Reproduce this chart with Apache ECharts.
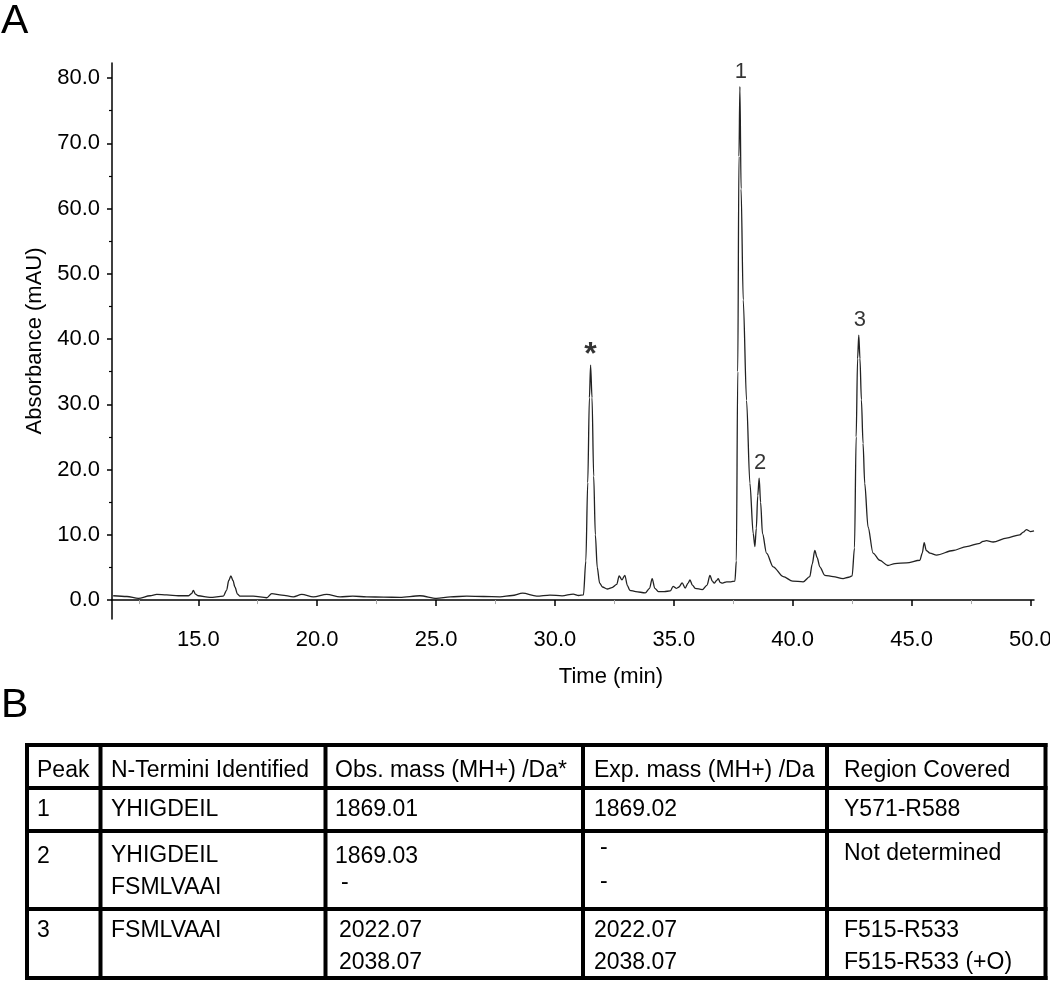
<!DOCTYPE html>
<html>
<head>
<meta charset="utf-8">
<script src="https://cdn.jsdelivr.net/npm/echarts@6/dist/echarts.min.js"></script>
<style>
  html, body { margin: 0; padding: 0; background: #fff; }
  #chart { width: 1050px; height: 982px; }
</style>
</head>
<body>
<div id="chart"></div>
<script>
// chromatogram trace (time in min, absorbance in mAU)
const time = [
  11.42, 12.0, 12.48, 12.97, 13.25, 13.67, 14.16, 14.58, 14.72, 14.79, 14.88, 15.0,
  15.49, 16.05, 16.19, 16.28, 16.37, 16.46, 16.54, 16.65, 16.75, 17.31, 17.88, 18.09,
  18.51, 19.0, 19.35, 19.84, 20.4, 20.96, 21.5, 22.08, 22.8, 23.48, 24.32, 25.02,
  25.6, 26.29, 27.0, 27.69, 28.2, 28.64, 29.23, 29.79, 30.3, 30.77, 31.0, 31.2,
  31.3, 31.38, 31.45, 31.5, 31.56, 31.63, 31.7, 31.78, 31.88, 32.0, 32.2, 32.4,
  32.6, 32.7, 32.82, 32.94, 33.05, 33.15, 33.4, 33.8, 33.98, 34.09, 34.2, 34.35,
  34.6, 34.85, 34.97, 35.1, 35.22, 35.35, 35.48, 35.6, 35.68, 35.78, 35.9, 36.2,
  36.4, 36.52, 36.62, 36.7, 36.8, 36.87, 36.95, 37.05, 37.22, 37.4, 37.57, 37.63,
  37.69, 37.74, 37.78, 37.83, 37.92, 38.06, 38.2, 38.34, 38.41, 38.47, 38.53, 38.59,
  38.65, 38.73, 38.9, 39.18, 39.6, 40.0, 40.44, 40.72, 40.82, 40.93, 41.03, 41.14,
  41.35, 41.7, 42.12, 42.35, 42.5, 42.6, 42.67, 42.73, 42.78, 42.83, 42.89, 42.96,
  43.03, 43.17, 43.38, 43.66, 44.0, 44.3, 44.79, 45.35, 45.45, 45.53, 45.62, 45.77,
  46.05, 46.75, 47.31, 47.87, 48.0, 48.15, 48.43, 48.99, 49.55, 49.7, 49.83, 50.0,
  50.15
];
const absorbance = [
  0.66, 0.55, 0.26, 0.66, 0.87, 0.80, 0.66, 0.66, 1.0, 1.5, 0.9, 0.66,
  0.41, 0.6, 1.5, 3.0, 3.7, 3.0, 2.0, 0.9, 0.6, 0.6, 0.36, 1.0,
  0.77, 0.5, 0.87, 0.5, 0.87, 0.5, 0.6, 0.5, 0.45, 0.41, 0.66, 0.26,
  0.5, 0.6, 0.55, 0.5, 0.7, 1.05, 0.6, 0.77, 0.65, 0.92, 0.7, 0.8,
  6, 18, 31, 36.0, 31, 19, 10, 5, 2.6, 2.0, 1.7, 1.9,
  2.4, 3.7, 3.1, 3.8, 2.2, 1.5, 1.3, 1.1, 1.8, 3.3, 1.8, 1.3,
  1.3, 1.4, 2.1, 1.8, 2.0, 2.65, 1.85, 2.6, 3.1, 2.3, 1.8, 1.6,
  2.3, 3.8, 2.9, 2.6, 3.0, 3.3, 2.7, 2.6, 2.8, 2.8, 2.9, 6,
  35, 68, 78.7, 63, 46, 30.6, 17.9, 10.2, 8.2, 11, 16, 18.7,
  15, 10.2, 7.2, 5.1, 3.6, 2.9, 2.8, 3.6, 5.5, 7.6, 6.5, 5.1,
  3.8, 3.6, 3.3, 3.5, 3.7, 8, 25, 37, 40.6, 37, 30.7, 24,
  17.9, 11.2, 7.2, 6.1, 5.3, 5.6, 5.7, 6.1, 7.2, 8.8, 7.6, 7.2,
  6.9, 7.6, 8.2, 8.7, 9.0, 9.1, 8.9, 9.5, 10.0, 10.4, 10.8, 10.5,
  10.6
];

// labelled peaks
const peakNames = ['*', '1', '2', '3'];
const peakTimes = [31.5, 37.78, 38.59, 42.78];
const peakHeights = [36.0, 78.7, 18.7, 40.6];

// axis ticks
const xTicks = [15, 20, 25, 30, 35, 40, 45, 50];
const xMinorTicks = [12.5, 17.5, 22.5, 27.5, 32.5, 37.5, 42.5, 47.5];
const yTicks = [0, 10, 20, 30, 40, 50, 60, 70, 80];
const yMinorTicks = [5, 15, 25, 35, 45, 55, 65, 75];

// table B
const tableHeader = ['Peak', 'N-Termini Identified', 'Obs. mass (MH+) /Da*', 'Exp. mass (MH+) /Da', 'Region Covered'];
const peakIds = [['1'], ['2'], ['3']];
const nTermini = [['YHIGDEIL'], ['YHIGDEIL', 'FSMLVAAI'], ['FSMLVAAI']];
const obsMass = [['1869.01'], ['1869.03', '-'], ['2022.07', '2038.07']];
const expMass = [['1869.02'], ['-', '-'], ['2022.07', '2038.07']];
const regionCovered = [['Y571-R588'], ['Not determined'], ['F515-R533', 'F515-R533 (+O)']];

const FONT = '"Liberation Sans", Arial, Helvetica, sans-serif';

// --- table layout (pixels) ---
const colX = [27, 100.5, 325.5, 583, 827, 1045.5];
const rowY = [745, 788, 831, 909, 978];
const textX = [37, 111, 335, 594, 844];
// line centres per row and column
const lineY = [
  [[810], [810], [810], [810], [810]],
  [[857], [856, 888], [857, 883], [848, 882], [854]],
  [[931], [931], [931, 963], [931, 963], [931, 963]]
];

function tableGraphics() {
  const els = [];
  const lw = 4;
  colX.forEach(x => els.push({
    type: 'line', shape: { x1: x, y1: rowY[0], x2: x, y2: rowY[rowY.length - 1] },
    style: { stroke: '#000', lineWidth: lw, lineCap: 'square' }
  }));
  rowY.forEach(y => els.push({
    type: 'line', shape: { x1: colX[0], y1: y, x2: colX[colX.length - 1], y2: y },
    style: { stroke: '#000', lineWidth: lw, lineCap: 'square' }
  }));
  const txt = (s, x, y) => els.push({
    type: 'text', x: x, y: y,
    style: { text: s, font: '23px ' + FONT, fill: '#000', align: 'left', verticalAlign: 'middle' }
  });
  tableHeader.forEach((h, c) => txt(h, textX[c], 771));
  const cols = [peakIds, nTermini, obsMass, expMass, regionCovered];
  for (let r = 0; r < 3; r++) {
    cols.forEach((col, c) => {
      col[r].forEach((s, k) => {
        let x = textX[c];
        if (s === '-') x += 6;
        if (r === 2 && c === 2) x += 4;
        txt(s, x, lineY[r][c][k]);
      });
    });
  }
  // panel letters
  els.push({ type: 'text', x: 1, y: 22, style: { text: 'A', font: '41px ' + FONT, fill: '#000', verticalAlign: 'middle' } });
  els.push({ type: 'text', x: 1, y: 706, style: { text: 'B', font: '41px ' + FONT, fill: '#000', verticalAlign: 'middle' } });
  return els;
}

const chart = echarts.init(document.getElementById('chart'), null, { renderer: 'canvas' });

const baseAxisText = { fontFamily: FONT, fontSize: 22, color: '#000' };
const gridBox = { left: 112, top: 63, right: 16, bottom: 363, outerBoundsMode: 'none', containLabel: false };

const labelPoints = peakTimes.map((t, i) => [t, peakHeights[i], peakNames[i]]);

const option = {
  backgroundColor: '#fff',
  animation: false,
  grid: [Object.assign({}, gridBox), Object.assign({}, gridBox)],
  xAxis: [
    {
      type: 'value', gridIndex: 0, min: 11.37, max: 50.15,
      axisLine: { lineStyle: { color: '#000', width: 1.5 } },
      axisTick: { show: true, customValues: xTicks, length: 6, lineStyle: { color: '#000', width: 1.5 } },
      axisLabel: Object.assign({ customValues: xTicks, margin: 10, formatter: v => v.toFixed(1) }, baseAxisText),
      splitLine: { show: false },
      name: 'Time (min)', nameLocation: 'middle', nameGap: 47,
      nameTextStyle: Object.assign({ padding: [0, 0, 0, 76] }, baseAxisText)
    },
    {
      type: 'value', gridIndex: 1, min: 11.37, max: 50.15,
      axisLine: { show: false },
      axisTick: { show: true, customValues: xMinorTicks, length: 4, lineStyle: { color: '#aaa', width: 1 } },
      axisLabel: { show: false },
      splitLine: { show: false }
    }
  ],
  yAxis: [
    {
      type: 'value', gridIndex: 0, min: -2.9, max: 82.3,
      axisLine: { show: true, lineStyle: { color: '#000', width: 1.5 } },
      axisTick: { show: true, customValues: yTicks, length: 5, lineStyle: { color: '#000', width: 1.5 } },
      axisLabel: Object.assign({ customValues: yTicks, margin: 12, formatter: v => v.toFixed(1) }, baseAxisText),
      splitLine: { show: false },
      name: 'Absorbance (mAU)', nameLocation: 'middle', nameGap: 66, nameRotate: 90,
      nameTextStyle: baseAxisText
    },
    {
      type: 'value', gridIndex: 1, min: -2.9, max: 82.3,
      axisLine: { show: false },
      axisTick: { show: true, customValues: yMinorTicks, length: 3, lineStyle: { color: '#000', width: 1.2 } },
      axisLabel: { show: false },
      splitLine: { show: false }
    }
  ],
  series: [
    {
      type: 'line', xAxisIndex: 0, yAxisIndex: 0,
      data: time.map((t, i) => [t, absorbance[i]]),
      showSymbol: false, symbol: 'none',
      smooth: 0.3, smoothMonotone: 'x',
      lineStyle: { color: '#222', width: 1.3 },
      z: 3
    },
    {
      // numbered peaks
      type: 'scatter', xAxisIndex: 0, yAxisIndex: 0,
      data: labelPoints.filter(p => p[2] !== '*'),
      symbolSize: 0,
      label: {
        show: true, position: 'top', distance: 4, offset: [1, 0],
        formatter: p => p.value[2],
        fontFamily: FONT, fontSize: 22, color: '#000'
      },
      z: 4
    },
    {
      // the starred peak
      type: 'scatter', xAxisIndex: 0, yAxisIndex: 0,
      data: labelPoints.filter(p => p[2] === '*'),
      symbolSize: 0,
      label: {
        show: true, position: 'top', distance: -6,
        formatter: p => p.value[2],
        fontFamily: FONT, fontSize: 32, fontWeight: 'bold', color: '#000'
      },
      z: 4
    }
  ],
  graphic: tableGraphics()
};

chart.setOption(option);
</script>
</body>
</html>
